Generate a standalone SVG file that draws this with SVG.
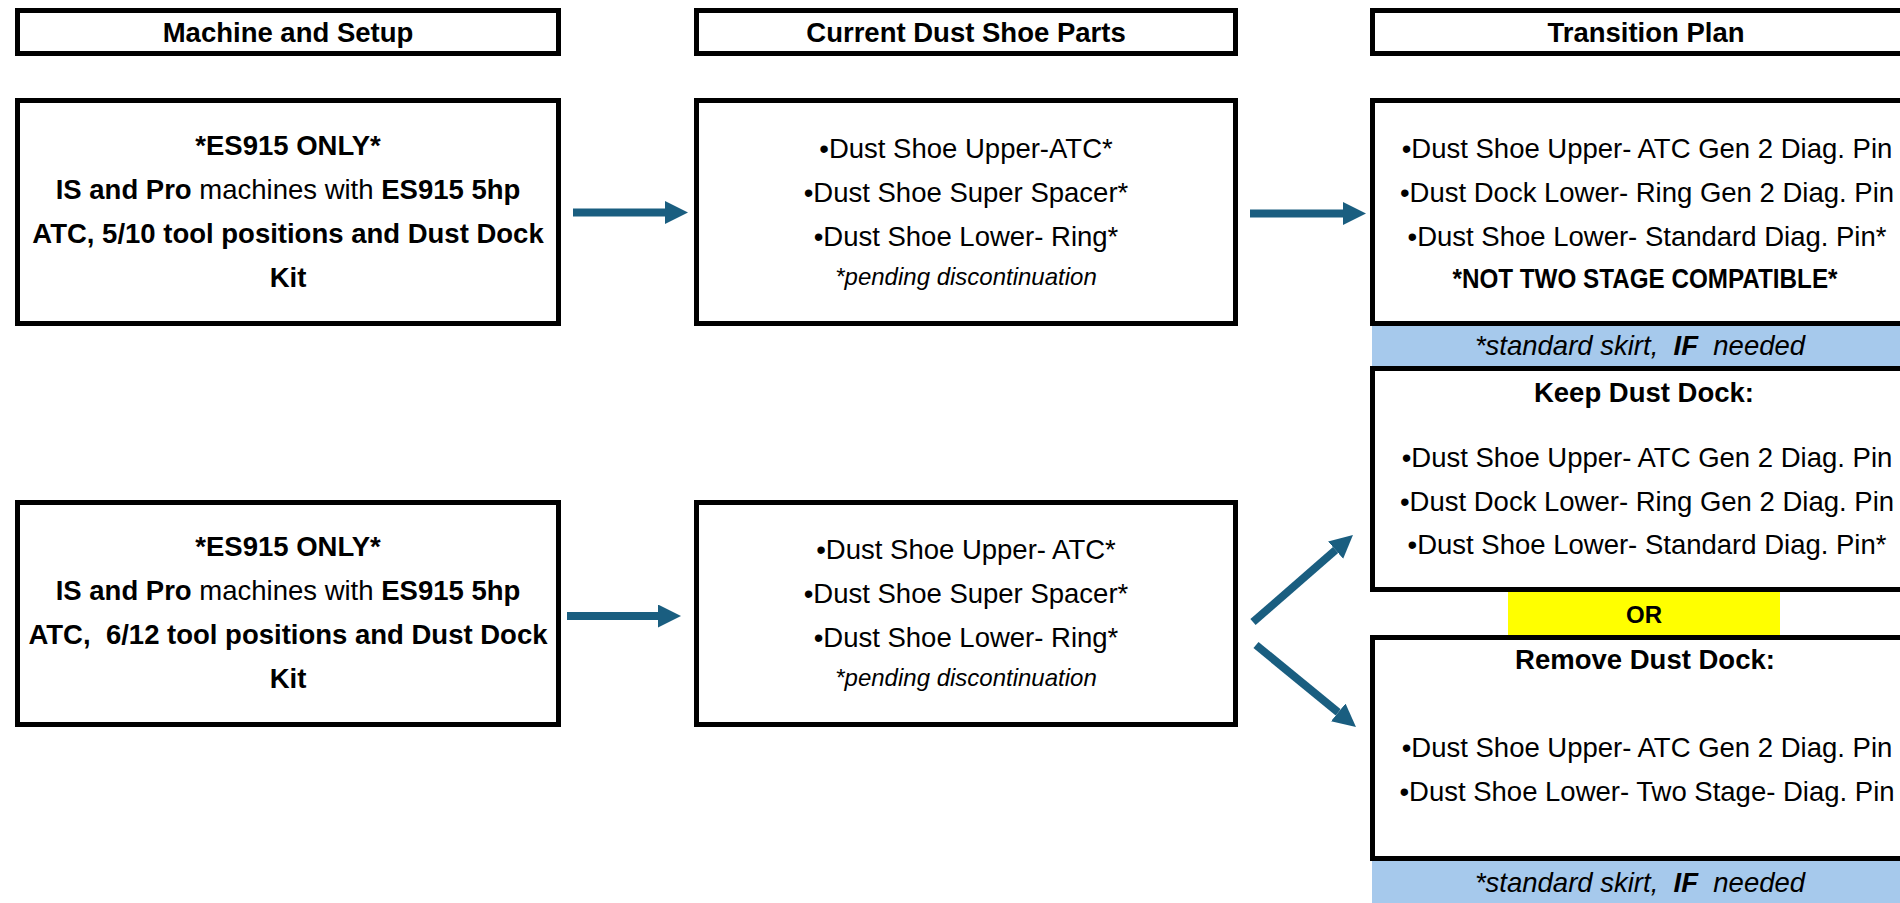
<svg xmlns="http://www.w3.org/2000/svg" width="1900" height="903" viewBox="0 0 1900 903">
  <style>
    text { font-family: "Liberation Sans", Arial, sans-serif; font-size: 27.5px; fill: #000; text-anchor: middle; }
    .b { font-weight: bold; }
    .i { font-style: italic; }
    .note { font-style: italic; font-size: 24px; }
    .box { fill: #fff; stroke: #000; stroke-width: 5; }
    .band { fill: #A6C9EC; }
    .or { fill: #FFFF00; }
    .conn { stroke: #1A5E80; stroke-width: 8; fill: none; marker-end: url(#ah); }
    .pre { white-space: pre; }
  </style>
  <defs>
    <marker id="ah" markerUnits="userSpaceOnUse" markerWidth="24" markerHeight="24" refX="0" refY="11.5" orient="auto" viewBox="0 0 24 24">
      <path d="M0,0 L23,11.5 L0,23 Z" fill="#1A5E80"/>
    </marker>
  </defs>
  <rect x="0" y="0" width="1900" height="903" fill="#fff"/>

  <g id="header-machine">
    <rect class="box" x="17.5" y="10.5" width="541" height="43"/>
    <text class="b" x="288" y="41.5">Machine and Setup</text>
  </g>
  <g id="header-current">
    <rect class="box" x="696.5" y="10.5" width="539" height="43"/>
    <text class="b" x="966" y="41.5">Current Dust Shoe Parts</text>
  </g>
  <g id="header-transition">
    <rect class="box" x="1372.5" y="10.5" width="580" height="43"/>
    <text class="b" x="1646" y="41.5">Transition Plan</text>
  </g>

  <g id="machine-1">
    <rect class="box" x="17.5" y="100.5" width="541" height="223"/>
    <text class="b" x="288" y="155">*ES915 ONLY*</text>
    <text x="288" y="199"><tspan class="b">IS and Pro</tspan> machines with <tspan class="b">ES915 5hp</tspan></text>
    <text class="b" x="288" y="243">ATC, 5/10 tool positions and Dust Dock</text>
    <text class="b" x="288" y="287">Kit</text>
  </g>

  <g id="current-1">
    <rect class="box" x="696.5" y="100.5" width="539" height="223"/>
    <text x="966" y="158">•Dust Shoe Upper-ATC*</text>
    <text x="966" y="202">•Dust Shoe Super Spacer*</text>
    <text x="966" y="246">•Dust Shoe Lower- Ring*</text>
    <text class="note" x="966" y="285">*pending discontinuation</text>
  </g>

  <g id="transition-1">
    <rect class="box" x="1372.5" y="100.5" width="580" height="223"/>
    <text x="1647" y="158">•Dust Shoe Upper- ATC Gen 2 Diag. Pin</text>
    <text x="1647" y="202">•Dust Dock Lower- Ring Gen 2 Diag. Pin</text>
    <text x="1647" y="246">•Dust Shoe Lower- Standard Diag. Pin*</text>
    <text class="b" x="1645" y="288" textLength="385" lengthAdjust="spacingAndGlyphs">*NOT TWO STAGE COMPATIBLE*</text>
  </g>

  <g id="skirt-note-1">
    <rect class="band" x="1372" y="326" width="528" height="41"/>
    <text class="i pre" x="1640" y="355">*standard skirt,  <tspan class="b">IF</tspan>  needed</text>
  </g>

  <g id="keep-dock">
    <rect class="box" x="1372.5" y="368.5" width="580" height="221"/>
    <text class="b" x="1644" y="402">Keep Dust Dock:</text>
    <text x="1647" y="467">•Dust Shoe Upper- ATC Gen 2 Diag. Pin</text>
    <text x="1647" y="511">•Dust Dock Lower- Ring Gen 2 Diag. Pin</text>
    <text x="1647" y="554">•Dust Shoe Lower- Standard Diag. Pin*</text>
  </g>

  <g id="or-label">
    <rect class="or" x="1508" y="592" width="272" height="43"/>
    <text class="b" x="1644" y="623" style="font-size:24px">OR</text>
  </g>

  <g id="remove-dock">
    <rect class="box" x="1372.5" y="637.5" width="580" height="221"/>
    <text class="b" x="1645" y="669">Remove Dust Dock:</text>
    <text x="1647" y="757">•Dust Shoe Upper- ATC Gen 2 Diag. Pin</text>
    <text x="1647" y="801">•Dust Shoe Lower- Two Stage- Diag. Pin</text>
  </g>

  <g id="skirt-note-2">
    <rect class="band" x="1372" y="861" width="528" height="42"/>
    <text class="i pre" x="1640" y="892">*standard skirt,  <tspan class="b">IF</tspan>  needed</text>
  </g>

  <g id="machine-2">
    <rect class="box" x="17.5" y="502.5" width="541" height="222"/>
    <text class="b" x="288" y="556">*ES915 ONLY*</text>
    <text x="288" y="600"><tspan class="b">IS and Pro</tspan> machines with <tspan class="b">ES915 5hp</tspan></text>
    <text class="b pre" x="288" y="644">ATC,  6/12 tool positions and Dust Dock</text>
    <text class="b" x="288" y="688">Kit</text>
  </g>

  <g id="current-2">
    <rect class="box" x="696.5" y="502.5" width="539" height="222"/>
    <text x="966" y="559">•Dust Shoe Upper- ATC*</text>
    <text x="966" y="603">•Dust Shoe Super Spacer*</text>
    <text x="966" y="647">•Dust Shoe Lower- Ring*</text>
    <text class="note" x="966" y="686">*pending discontinuation</text>
  </g>

  <g id="connectors">
    <line class="conn" x1="573" y1="212.5" x2="665" y2="212.5"/>
    <line class="conn" x1="1250" y1="213.5" x2="1343" y2="213.5"/>
    <line class="conn" x1="567" y1="616" x2="658" y2="616"/>
    <line class="conn" x1="1253" y1="622" x2="1335.6" y2="550.1"/>
    <line class="conn" x1="1256" y1="645" x2="1338.2" y2="712.4"/>
  </g>
</svg>
